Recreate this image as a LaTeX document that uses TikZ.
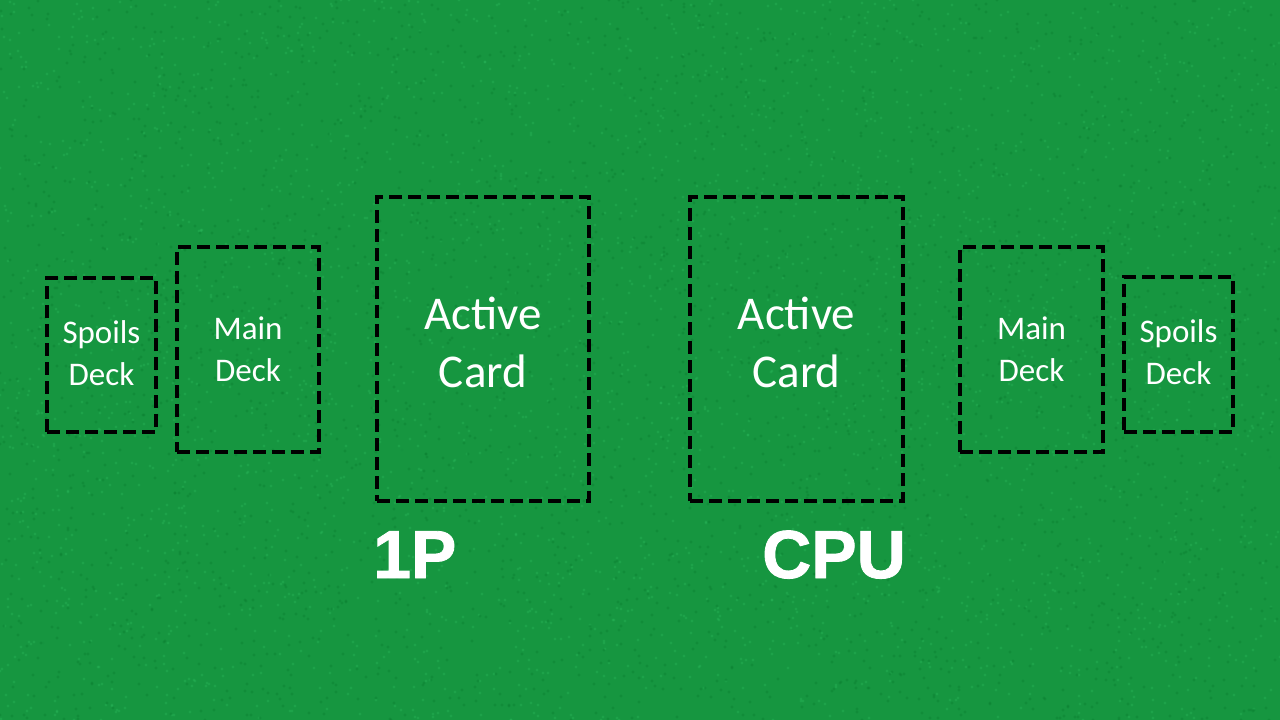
\documentclass[tikz,border=0pt]{standalone}
\usepackage{fontspec}
\setmainfont{Carlito}
\newfontfamily\headfont[FakeBold=1.2]{Liberation Sans}
\definecolor{felt}{RGB}{22,150,64}
\definecolor{feltlight}{RGB}{40,180,88}
\definecolor{feltdark}{RGB}{10,126,48}
\tikzset{
  slot/.style={draw=black, line width=4.5pt, dash pattern=on 13pt off 6pt, fill=none, inner sep=0pt, text=white, align=center},
  small/.style={slot, font=\fontsize{33}{42}\selectfont},
  big/.style={slot, text depth=14pt, font=\fontsize{47}{58}\selectfont},
  player/.style={text=white, inner sep=0pt, font=\headfont\bfseries\fontsize{68}{68}\selectfont, anchor=base west}
}
\begin{document}
\begin{tikzpicture}[x=1pt, y=-1pt]
  \useasboundingbox (0,0) rectangle (1280,720);
  \fill[felt] (0,0) rectangle (1280,720);
  % felt texture
  \pgfmathsetseed{7}
  \foreach \i in {1,...,3000}{
    \pgfmathsetmacro{\px}{random(0,1280)}
    \pgfmathsetmacro{\py}{random(0,720)}
    \fill[feltlight, opacity=0.4] (\px,\py) circle (1.6pt);
  }
  \foreach \i in {1,...,3000}{
    \pgfmathsetmacro{\px}{random(0,1280)}
    \pgfmathsetmacro{\py}{random(0,720)}
    \fill[feltdark, opacity=0.4] (\px,\py) circle (1.6pt);
  }
  % left side (1P)
  \node[small, text depth=4pt, minimum width=109pt, minimum height=154pt] (lspoils) at (101.5,355) {Spoils\\Deck};
  \node[small, minimum width=142pt, minimum height=205pt] (lmain) at (248,349.5) {Main\\Deck};
  \node[big, minimum width=212pt, minimum height=304pt] (lactive) at (483,349) {Active\\Card};
  % right side (CPU)
  \node[big, minimum width=213pt, minimum height=304pt] (ractive) at (796.5,349) {Active\\Card};
  \node[small, minimum width=143pt, minimum height=205pt] (rmain) at (1031.5,349.5) {Main\\Deck};
  \node[small, text depth=4pt, minimum width=109pt, minimum height=155pt] (rspoils) at (1178.5,354.5) {Spoils\\Deck};
  % player labels
  \node[player] (p1) at (373,578) {1P};
  \node[player] (cpu) at (762,578) {CPU};
\end{tikzpicture}
\end{document}
